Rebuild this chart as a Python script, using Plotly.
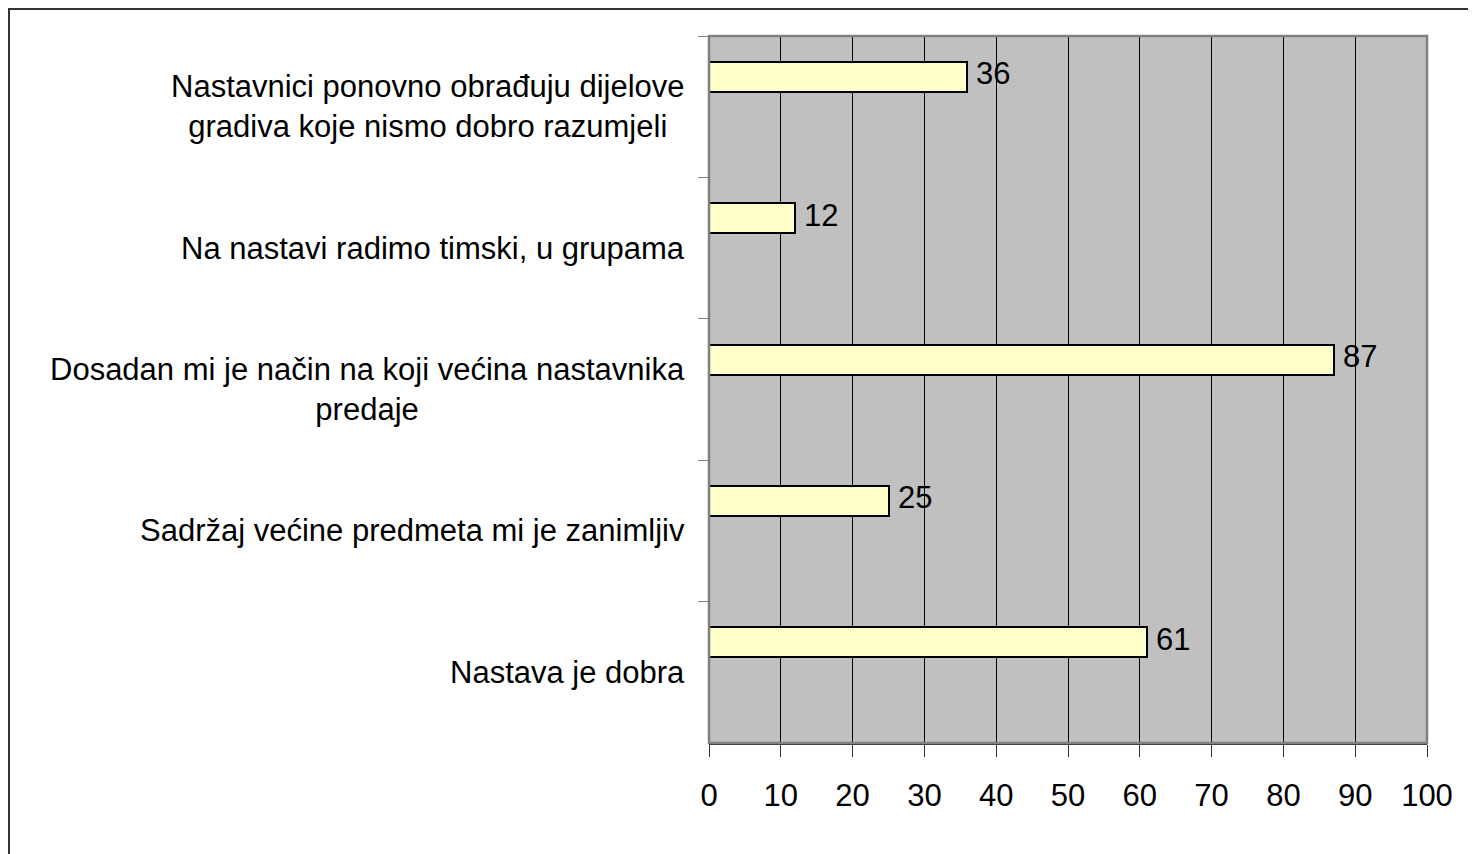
import plotly.graph_objects as go

# Data (top-to-bottom order as shown)
categories = [
    "Nastavnici ponovno obrađuju dijelove<br>gradiva koje nismo dobro razumjeli",
    "Na nastavi radimo timski, u grupama",
    "Dosadan mi je način na koji većina nastavnika<br>predaje",
    "Sadržaj većine predmeta mi je zanimljiv",
    "Nastava je dobra",
]
values = [36, 12, 87, 25, 61]
x_ticks = [0, 10, 20, 30, 40, 50, 60, 70, 80, 90, 100]

FONT = "Liberation Sans, Arial, sans-serif"

# the page adds an 8px body margin, so the figure is 8px smaller and shifted
W, H = 1468, 846
ML, MR, MT, MB = 701, 49, 28, 111

fig = go.Figure()
fig.add_trace(go.Bar(
    x=values,
    y=categories,
    orientation="h",
    offset=-0.318,
    width=0.212,
    marker=dict(color="#FFFFCC", line=dict(color="black", width=2)),
    showlegend=False,
    hoverinfo="x+y",
))

annotations = []
for c, v in zip(categories, values):
    annotations.append(dict(
        x=0, xref="paper", y=c, yref="y",
        text=c, showarrow=False, xanchor="right", yanchor="middle",
        align="center", xshift=-22,
        font=dict(family=FONT, size=31, color="black"),
    ))
    annotations.append(dict(
        x=v, xref="x", y=c, yref="y",
        text=str(v), showarrow=False, xanchor="left", yanchor="middle",
        xshift=7, yshift=33,
        font=dict(family=FONT, size=31, color="black"),
    ))

pw = W - ML - MR
ph = H - MT - MB
def px_to_paper_x(px):
    return (px - ML) / pw
def px_to_paper_y(py):
    return (H - MB - py) / ph

shapes = [
    # plot area border
    dict(type="rect", xref="paper", yref="paper", x0=0, x1=1, y0=0, y1=1,
         line=dict(color="#808080", width=2.5), layer="above"),
    # outer chart frame (extends beyond the right/bottom of the picture)
    dict(type="rect", xref="paper", yref="paper",
         x0=px_to_paper_x(1), x1=px_to_paper_x(1490),
         y0=px_to_paper_y(870), y1=px_to_paper_y(1),
         line=dict(color="#333333", width=2), layer="above"),
]

fig.update_layout(
    width=W, height=H,
    margin=dict(l=ML, r=MR, t=MT, b=MB, pad=0),
    paper_bgcolor="white",
    plot_bgcolor="#C0C0C0",
    font=dict(family=FONT, size=31, color="black"),
    bargap=0,
    annotations=annotations,
    shapes=shapes,
    xaxis=dict(
        range=[0, 100],
        tickvals=x_ticks,
        ticktext=[str(t) for t in x_ticks],
        showgrid=True, gridcolor="black", gridwidth=1,
        zeroline=False,
        ticks="outside", ticklen=12, tickcolor="#333333", tickwidth=1,
        showline=True, linecolor="#333333", linewidth=2,
        tickfont=dict(family=FONT, size=31, color="black"),
        ticklabelstandoff=12,
        fixedrange=True,
    ),
    yaxis=dict(
        type="category",
        categoryorder="array", categoryarray=categories,
        range=[4.5, -0.5],
        showticklabels=False,
        showgrid=False, zeroline=False,
        ticks="outside", tickson="boundaries", ticklen=10,
        tickcolor="#808080", tickwidth=1,
        showline=False,
        fixedrange=True,
    ),
)

fig.write_html("out.html")
